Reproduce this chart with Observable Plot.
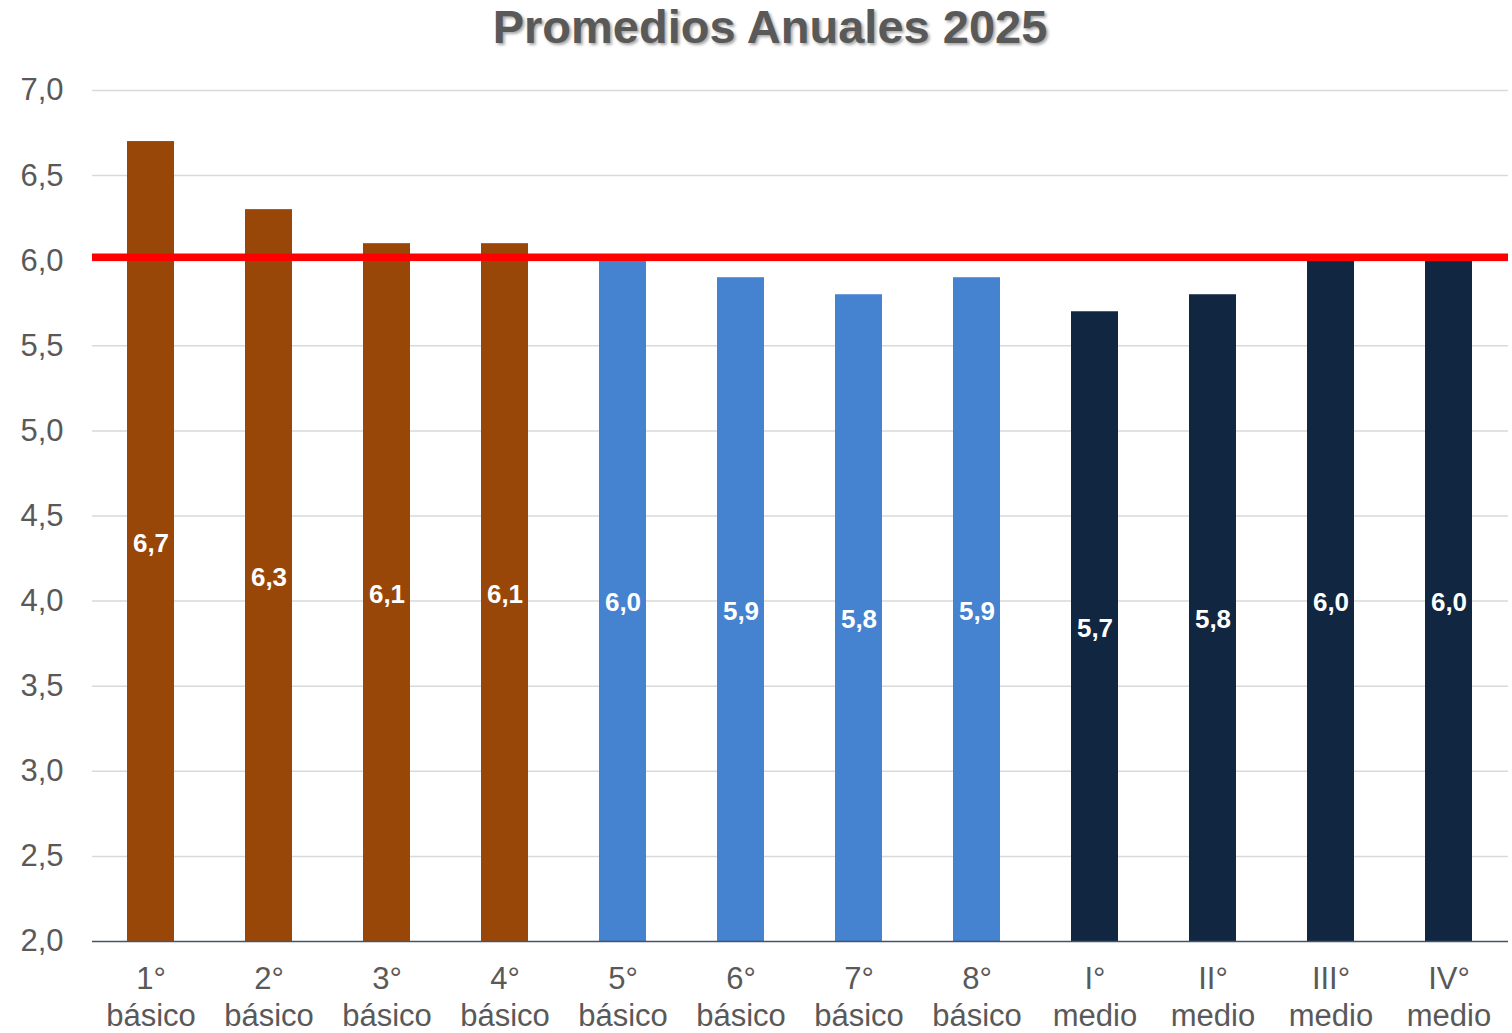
<!DOCTYPE html>
<html>
<head>
<meta charset="utf-8">
<script src="https://cdn.jsdelivr.net/npm/d3@7"></script>
<script src="https://cdn.jsdelivr.net/npm/@observablehq/plot@0.6"></script>
<style>
  html, body { margin: 0; padding: 0; background: #fff; }
  #wrap { position: relative; width: 1512px; height: 1033px; }
  #title {
    position: absolute; left: 0; top: 0; width: 1540px; text-align: center;
    font-family: "Liberation Sans", Arial, sans-serif; font-weight: bold;
    font-size: 47px; line-height: 54px; color: #595959;
    text-shadow: 2px 2px 3px rgba(0,0,0,0.35);
  }
</style>
</head>
<body>
<div id="wrap">
  <div id="title">Promedios Anuales 2025</div>
  <div id="chart"></div>
</div>
<script>
const grades = ["1°\nbásico","2°\nbásico","3°\nbásico","4°\nbásico","5°\nbásico","6°\nbásico","7°\nbásico","8°\nbásico","I°\nmedio","II°\nmedio","III°\nmedio","IV°\nmedio"];
const promedios = [6.7, 6.3, 6.1, 6.1, 6.0, 5.9, 5.8, 5.9, 5.7, 5.8, 6.0, 6.0];
const ciclos = ["Primer ciclo","Primer ciclo","Primer ciclo","Primer ciclo","Segundo ciclo","Segundo ciclo","Segundo ciclo","Segundo ciclo","Media","Media","Media","Media"];
const cicloNames = ["Primer ciclo","Segundo ciclo","Media"];
const cicloColors = ["#994708","#4582D0","#112640"];
const meta = [6.02];
const yTicks = [2.0, 2.5, 3.0, 3.5, 4.0, 4.5, 5.0, 5.5, 6.0, 6.5, 7.0];

const data = grades.map((g, i) => ({grade: g, value: promedios[i], ciclo: ciclos[i]}));
const fmt = v => v.toFixed(1).replace(".", ",");

const chart = Plot.plot({
  width: 1512,
  height: 1033,
  marginTop: 90,
  marginBottom: 92,
  marginLeft: 92,
  marginRight: 4,
  style: {fontFamily: "'Liberation Sans', Arial, sans-serif", background: "#fff"},
  x: {domain: grades, paddingInner: 0.6, paddingOuter: 0.3, label: null},
  y: {domain: [2, 7], label: null},
  color: {domain: cicloNames, range: cicloColors},
  marks: [
    Plot.ruleY(yTicks.filter(t => t > 2), {stroke: "#d9d9d9", strokeWidth: 1.5}),
    Plot.barY(data, {x: "grade", y1: 2, y2: "value", fill: "ciclo"}),
    Plot.ruleY([2], {stroke: "#44546A", strokeWidth: 1.5}),
    Plot.ruleY(meta, {stroke: "#ff0000", strokeWidth: 7.5}),
    Plot.text(data, {x: "grade", y: d => (d.value + 2) / 2, text: d => fmt(d.value), dy: 2, fill: "white", fontWeight: "bold", fontSize: 26}),
    Plot.axisY({ticks: yTicks, tickFormat: fmt, tickSize: 0, tickPadding: 29, fontSize: 31, color: "#595959", label: null}),
    Plot.axisX({tickSize: 0, tickPadding: 21, fontSize: 31, color: "#595959", lineHeight: 1.2, label: null})
  ]
});
document.getElementById("chart").appendChild(chart);
</script>
</body>
</html>
